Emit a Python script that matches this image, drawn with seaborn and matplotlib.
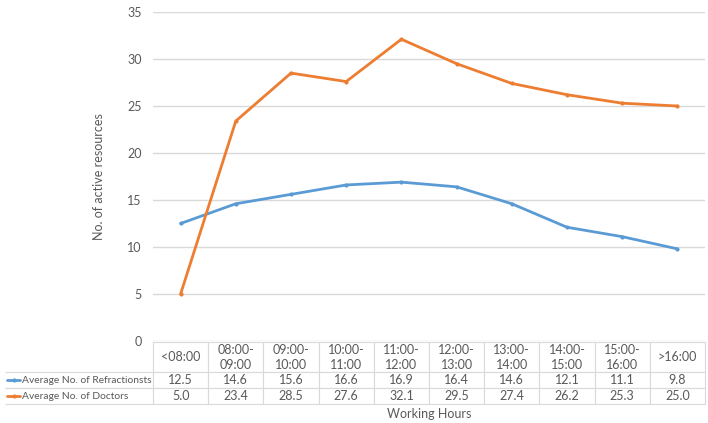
import pandas as pd
import numpy as np
import matplotlib.pyplot as plt
import seaborn as sns
from matplotlib.lines import Line2D
from matplotlib import font_manager

# data
hours = ['<08:00', '08:00-\n09:00', '09:00-\n10:00', '10:00-\n11:00', '11:00-\n12:00',
         '12:00-\n13:00', '13:00-\n14:00', '14:00-\n15:00', '15:00-\n16:00', '>16:00']
refractionists = [12.5, 14.6, 15.6, 16.6, 16.9, 16.4, 14.6, 12.1, 11.1, 9.8]
doctors = [5.0, 23.4, 28.5, 27.6, 32.1, 29.5, 27.4, 26.2, 25.3, 25.0]
series_names = ['Average No. of Refractionsts', 'Average No. of Doctors']
y_ticks = [0, 5, 10, 15, 20, 25, 30, 35]

colors = ['#5B9BD5', '#ED7D31']
text_color = '#595959'
grid_color = '#D9D9D9'

df = pd.DataFrame({
    'pos': list(range(len(hours))) * 2,
    'value': refractionists + doctors,
    'series': [series_names[0]] * len(hours) + [series_names[1]] * len(hours),
})

sns.set_style('white')
plt.rcParams['font.family'] = ['Lato', 'DejaVu Sans']

# narrower face for the long row labels if it is there
installed = {f.name for f in font_manager.fontManager.ttflist}
if 'Liberation Sans Narrow' in installed:
    label_font, label_size = 'Liberation Sans Narrow', 9
else:
    label_font, label_size = 'Lato', 7.4

fig = plt.figure(figsize=(7.08, 4.23), dpi=100)
W, H = 708, 423
ax_left, ax_right, ax_top, ax_bottom = 153, 705, 12, 341
ax = fig.add_axes([ax_left / W, 1 - ax_bottom / H, (ax_right - ax_left) / W, (ax_bottom - ax_top) / H])

sns.lineplot(data=df, x='pos', y='value', hue='series', palette=colors,
             marker='o', markersize=3, markeredgewidth=0, linewidth=2,
             legend=False, ax=ax)

ax.set_xlim(-0.5, len(hours) - 0.5)
ax.set_ylim(0, 35)
ax.set_yticks(y_ticks)
ax.yaxis.grid(True, color=grid_color, linewidth=1)
ax.set_axisbelow(True)
ax.tick_params(axis='y', length=0, pad=8, labelsize=9, labelcolor=text_color)
ax.set_xticks([])
for s in ax.spines.values():
    s.set_visible(False)

ax.set_ylabel('No. of active resources', fontsize=9, color=text_color, labelpad=16)
ax.set_xlabel('Working Hours', fontsize=9, color=text_color, labelpad=48)

# data table below the plot; first column holds the series names
ax_w = ax_right - ax_left
ax_h = ax_bottom - ax_top
label_w = 148 / ax_w
col_w = 1 / len(hours)
header_h, row_h = 30 / ax_h, 16 / ax_h
tbl_top = -1 / ax_h
tbl_h = header_h + 2 * row_h

cell_text = [[series_names[0]] + [f'{v:.1f}' for v in refractionists],
             [series_names[1]] + [f'{v:.1f}' for v in doctors]]
table = ax.table(cellText=cell_text, colLabels=[''] + hours, cellLoc='center',
                 bbox=[-label_w, tbl_top - tbl_h, 1 + label_w, tbl_h])
table.auto_set_font_size(False)
for (r, c), cell in table.get_celld().items():
    cell.set_edgecolor(grid_color)
    cell.set_linewidth(0.8)
    txt = cell.get_text()
    txt.set_fontsize(9)
    txt.set_color(text_color)
    txt.set_linespacing(1.3)
    cell.set_height(header_h if r == 0 else row_h)
    cell.set_width(label_w if c == 0 else col_w)
    if c == 0:
        if r == 0:
            cell.visible_edges = ''
        else:
            cell.visible_edges = 'horizontal'
            txt.set_ha('left')
            txt.set_family(label_font)
            txt.set_fontsize(label_size)
            txt.set_clip_on(False)
            cell.PAD = 17 / 148

# legend keys in the row labels
for i, col in enumerate(colors):
    yax = tbl_top - header_h - row_h * (i + 0.5)
    x0 = (7 - ax_left) / ax_w
    x1 = (20 - ax_left) / ax_w
    ax.add_line(Line2D([x0, x1], [yax, yax], transform=ax.transAxes, color=col,
                       linewidth=2, clip_on=False))
    ax.add_line(Line2D([(x0 + x1) / 2], [yax], transform=ax.transAxes, color=col,
                       marker='o', markersize=3, markeredgewidth=0, clip_on=False))

fig.savefig('out.png', dpi=100)
